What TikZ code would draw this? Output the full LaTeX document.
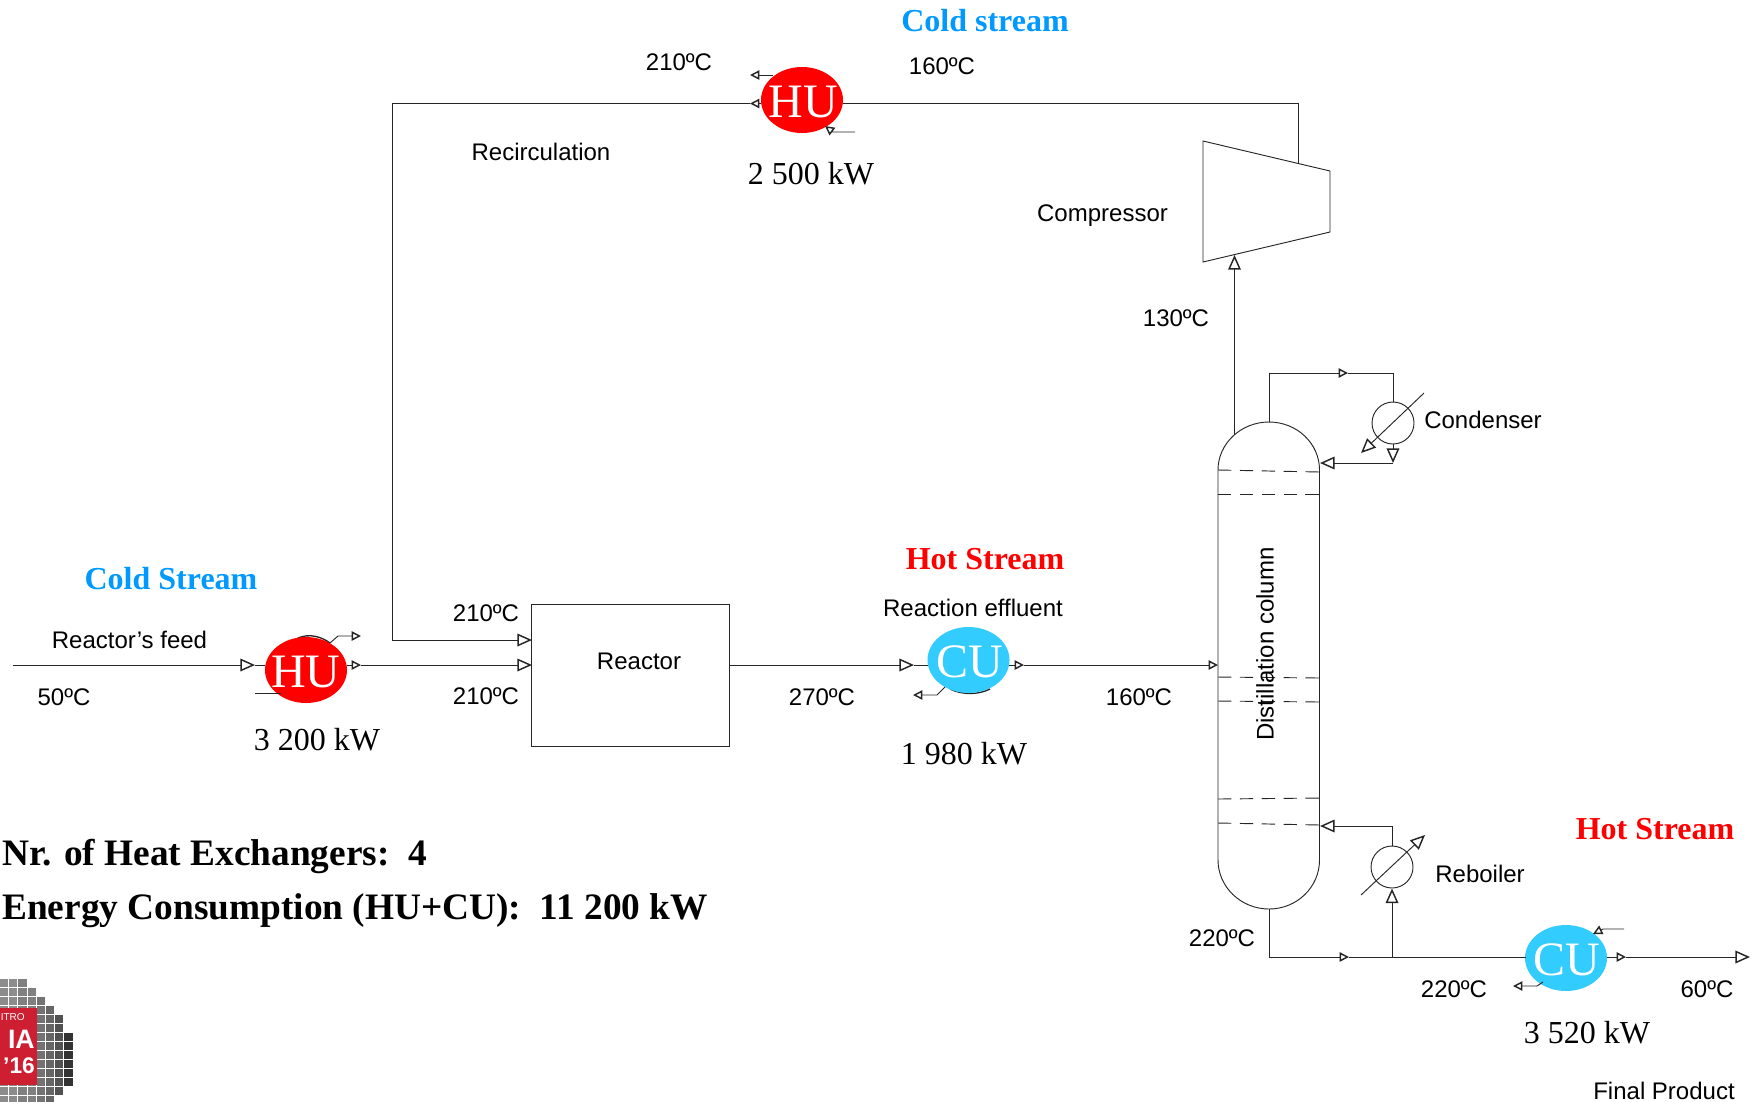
\documentclass[tikz,border=0pt]{standalone}
\usepackage{fontspec}
\setmainfont{Liberation Sans}
\newfontfamily\serifrm{Liberation Serif}
\usetikzlibrary{arrows.meta,shapes.geometric}
\definecolor{hotred}{RGB}{255,0,0}
\definecolor{coldblue}{RGB}{0,153,255}
\definecolor{cufill}{RGB}{51,204,255}
\definecolor{logored}{RGB}{205,30,50}
\tikzset{
  pipe/.style={line width=0.7pt,draw=black!85},
  big/.style={pipe,-{Triangle[open,length=11pt,width=9.5pt,line width=1.1pt]}},
  small/.style={pipe,-{Triangle[open,length=7pt,width=7pt,line width=1.1pt]}},
  sanslabel/.style={font=\fontsize{18}{20}\selectfont,inner sep=0pt},
  duty/.style={font=\serifrm\fontsize{24}{26}\selectfont,inner sep=0pt},
  stream/.style={font=\serifrm\bfseries\fontsize{24}{26}\selectfont,inner sep=0pt},
  summary/.style={font=\serifrm\bfseries\fontsize{28}{30}\selectfont,inner sep=0pt,anchor=west},
  disc/.style={ellipse,minimum width=61.5pt,minimum height=49.5pt,inner sep=0pt},
  disctext/.style={text=white,inner sep=0pt,font=\serifrm\fontsize{36}{37}\selectfont},
  hu/.style={disc,fill=hotred},
  cu/.style={disc,fill=cufill},
  exch/.style={circle,draw=black!85,line width=0.7pt,minimum size=31.5pt,inner sep=0pt},
  tray/.style={line width=0.7pt,draw=black!85,dash pattern=on 10pt off 6.4pt},
}
\begin{document}
\begin{tikzpicture}[x=0.75pt,y=-0.75pt]
\useasboundingbox (0,0) rectangle (1755,1101);

% --- free ends and junctions
\coordinate (feedS) at (13,665);
\coordinate (feedT) at (255,665);
\coordinate (huTwoW) at (265,665);
\coordinate (huTwoE) at (347,665);
\coordinate (huTwoA) at (361,665);
\coordinate (reactIn) at (532,665);
\coordinate (reactRec) at (532,640);
\coordinate (recDown) at (392,640);
\coordinate (recTop) at (392,103.5);
\coordinate (huOneT) at (750,103.5);
\coordinate (huOneW) at (761,103.5);
\coordinate (huOneE) at (843,103.5);
\coordinate (topR) at (1298,103.5);
\coordinate (compTop) at (1298,163);
\coordinate (compIn) at (1234.5,255);
\coordinate (colVap) at (1234.5,435);
\coordinate (reactOut) at (729,665);
\coordinate (cuOneT) at (914,665);
\coordinate (cuOneW) at (928,665);
\coordinate (cuOneE) at (1009,665);
\coordinate (cuOneA) at (1024,665);
\coordinate (colFeed) at (1218,665);
\coordinate (colTop) at (1269,422);
\coordinate (refA) at (1269,373);
\coordinate (refM) at (1348,373);
\coordinate (refB) at (1393,373);
\coordinate (colRefl) at (1320,463);
\coordinate (condOut) at (1393,463);
\coordinate (colRebIn) at (1320,826);
\coordinate (rebTop) at (1392,826);
\coordinate (colBot) at (1269,909);
\coordinate (botA) at (1269,957);
\coordinate (botM) at (1349,957);
\coordinate (botB) at (1392,957);
\coordinate (cuTwoW) at (1526,957);
\coordinate (cuTwoE) at (1607,957);
\coordinate (cuTwoA) at (1626,957);
\coordinate (prodEnd) at (1750,957);

% --- stubs that sit behind the utility discs
\draw[pipe,line width=1pt] (298,638) .. controls (310,633) and (322,637) .. (330,643);
\draw[pipe,line width=1pt] (950,689) .. controls (962,695) and (978,695) .. (990,689);

% --- equipment
\node[hu] (huOne) at (802,100) {};
\node[disctext] (huOneText) at (803,102) {HU};
\node[hu] (huTwo) at (306,670) {};
\node[disctext] (huTwoText) at (306,672) {HU};
\node[cu] (cuOne) at (968.5,660) {};
\node[disctext] (cuOneText) at (970,662) {CU};
\node[cu] (cuTwo) at (1566,958) {};
\node[disctext] (cuTwoText) at (1567,960) {CU};
\node[draw=black!85,line width=0.8pt,minimum width=148pt,minimum height=107pt,inner sep=0pt] (reactor) at (630.5,675.5) {};
\node[sanslabel] (reactorLabel) at (639,661.5) {Reactor};
\node[exch] (cond) at (1393,423) {};
\node[exch] (reb) at (1392,867) {};
\draw[pipe,line join=miter] (1203,141) -- (1330,171) -- (1330,232) -- (1203,262) -- cycle;
\draw[pipe] (1218,470) .. controls (1218,443.5) and (1241,422) .. (1269,422)
  .. controls (1297,422) and (1319.5,443.5) .. (1319.5,470) -- (1319.5,860)
  .. controls (1319.5,887) and (1297,909) .. (1269,909)
  .. controls (1241,909) and (1218,887) .. (1218,860) -- cycle;
\draw[tray] (1218,470) -- (1320,472);
\draw[tray] (1218,494) -- (1320,494);
\draw[tray] (1218,677) -- (1320,678);
\draw[tray] (1218,701) -- (1320,702);
\draw[tray] (1218,799) -- (1320,798);
\draw[tray] (1218,823) -- (1320,825);

% --- feed line
\draw[big] (feedS) -- (feedT);
\draw[pipe] (feedT) -- (huTwoW);
\draw[small] (huTwoE) -- (huTwoA);
\draw[big] (huTwoA) -- (reactIn);
\draw[big] (reactOut) -- (cuOneT);
\draw[pipe] (cuOneT) -- (cuOneW);
\draw[small] (cuOneE) -- (cuOneA);
\draw[small] (cuOneA) -- (colFeed);

% --- recirculation
\draw[pipe] (compTop) -- (topR) -- (huOneE);
\draw[small] (huOneW) -- (huOneT);
\draw[pipe] (huOneT) -- (recTop) -- (recDown);
\draw[big] (recDown) -- (reactRec);

% --- overhead, condenser
\draw[big] (colVap) -- (compIn);
\draw[small] (colTop) -- (refA) -- (refM);
\draw[pipe] (refM) -- (refB) -- (cond.north);
\draw[big] (cond.south) -- (condOut);
\draw[big] (condOut) -- (colRefl);
\coordinate (condDiagA) at (1424,393);
\coordinate (condDiagB) at (1361,453);
\draw[big] (condDiagA) -- (condDiagB);

% --- bottoms, reboiler
\draw[small] (colBot) -- (botA) -- (botM);
\draw[pipe] (botM) -- (cuTwoW);
\draw[big] (botB) -- (reb.south);
\draw[pipe] (reb.north) -- (rebTop);
\draw[big] (rebTop) -- (colRebIn);
\coordinate (rebDiagA) at (1361,895);
\coordinate (rebDiagB) at (1425,835);
\draw[big] (rebDiagA) -- (rebDiagB);
\draw[small] (cuTwoE) -- (cuTwoA);
\draw[big] (cuTwoA) -- (prodEnd);

% --- utility stubs
\coordinate (uA) at (773,75); \coordinate (uAt) at (750,75);
\draw[small] (uA) -- (uAt);
\coordinate (uB) at (855,132); \coordinate (uBm) at (833,132); \coordinate (uBt) at (825,126);
\draw[small] (uB) -- (uBm) -- (uBt);
\coordinate (uC) at (330,643); \coordinate (uCm) at (338,636); \coordinate (uCt) at (361,636);
\draw[small] (uC) -- (uCm) -- (uCt);
\coordinate (uD) at (255,693); \coordinate (uDe) at (281,693);
\draw[pipe] (uD) -- (uDe);
\coordinate (uE) at (945,687); \coordinate (uEm) at (937,695); \coordinate (uEt) at (913,695);
\draw[small] (uE) -- (uEm) -- (uEt);
\coordinate (uF) at (1624,929); \coordinate (uFm) at (1603,929); \coordinate (uFt) at (1593,934);
\draw[small] (uF) -- (uFm) -- (uFt);
\coordinate (uG) at (1543,982); \coordinate (uGm) at (1537,986); \coordinate (uGt) at (1513,986);
\draw[small] (uG) -- (uGm) -- (uGt);

% --- labels
\node[stream,text=coldblue] (tColdA) at (985,21) {Cold stream};
\node[stream,text=coldblue] (tColdB) at (171,579) {Cold Stream};
\node[stream,text=hotred] (tHotA) at (985,559.5) {Hot Stream};
\node[stream,text=hotred] (tHotB) at (1655,829) {Hot Stream};
\node[sanslabel] (t1) at (679,62.5) {210ºC};
\node[sanslabel] (t2) at (942,66) {160ºC};
\node[sanslabel] (t3) at (541,152) {Recirculation};
\node[sanslabel] (t4) at (1102.5,215.5) {Compressor};
\node[sanslabel] (t5) at (1176,318) {130ºC};
\node[sanslabel] (t6) at (1483,420) {Condenser};
\node[sanslabel] (t7) at (973,608) {Reaction effluent};
\node[sanslabel] (t8) at (129.5,640) {Reactor’s feed};
\node[sanslabel] (t9) at (486,613) {210ºC};
\node[sanslabel] (t10) at (486,696) {210ºC};
\node[sanslabel] (t11) at (64,697) {50ºC};
\node[sanslabel] (t12) at (822,697) {270ºC};
\node[sanslabel] (t13) at (1139,697) {160ºC};
\node[sanslabel,rotate=90] (t14) at (1265,644) {Distillation column};
\node[sanslabel] (t15) at (1480,874) {Reboiler};
\node[sanslabel] (t16) at (1222,938) {220ºC};
\node[sanslabel] (t17) at (1454,989) {220ºC};
\node[sanslabel] (t18) at (1707,989) {60ºC};
\node[sanslabel] (t19) at (1664,1090.5) {Final Product};
\node[duty] (d1) at (811,173.5) {2 500 kW};
\node[duty] (d2) at (317,740) {3 200 kW};
\node[duty] (d3) at (964,754) {1 980 kW};
\node[duty] (d4) at (1587,1033) {3 520 kW};
\node[summary] (s1) at (2,856) {Nr. of Heat Exchangers:\ \ 4};
\node[summary] (s2) at (2,911) {Energy Consumption (HU+CU):\ \ 11 200 kW};

% --- logo at the corner of the picture
\foreach \i/\t/\b/\g in {0/0/13/45,1/0/13/45,2/0/13/50,3/1/13/50,4/2/13/55,5/3/13/60,6/4/12/68,7/6/11/80}{
  \foreach \j in {\t,...,\b}{
    \fill[black!\g] ({\i*9.2},{979+9*\j}) rectangle ({\i*9.2+8.2},{979+9*\j+8});
  }
}
\fill[logored] (0,1008) rectangle (37,1085);
\node[anchor=east,inner sep=0pt,text=white,font=\fontsize{7.5}{9}\selectfont] (logoA) at (25,1017) {ITRO};
\node[anchor=east,inner sep=0pt,text=white,font=\bfseries\fontsize{20}{22}\selectfont] (logoB) at (35,1039) {IA};
\node[anchor=east,inner sep=0pt,text=white,font=\bfseries\fontsize{17}{19}\selectfont] (logoC) at (35,1066) {’16};
\end{tikzpicture}
\end{document}
